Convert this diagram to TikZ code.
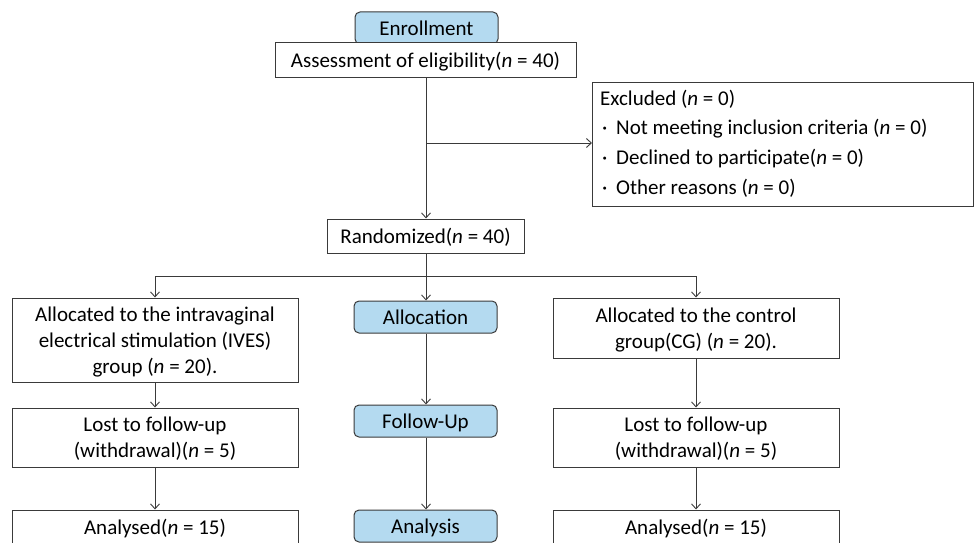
\documentclass[tikz,border=0pt]{standalone}
\usepackage{fontspec}
\setmainfont{Carlito}
\usetikzlibrary{arrows.meta}
\definecolor{bluefill}{HTML}{B4DAF0}
\definecolor{linecol}{HTML}{3A3A3A}
\newcommand{\nn}{\textit{n}}
\newcommand{\bul}{\makebox[16pt][l]{\hspace{2pt}·}}
\begin{document}
\begin{tikzpicture}[x=1pt,y=-1pt,
  txt/.style={font=\fontsize{21}{26}\selectfont},
  box/.style={txt, draw=linecol, line width=1pt, fill=white, inner sep=0pt, align=center, text depth=0pt},
  stage/.style={txt, draw=linecol, line width=1pt, fill=bluefill, rounded corners=5pt, inner sep=0pt, align=center, text depth=0pt},
  arr/.style={draw=linecol, line width=0.9pt, -{Straight Barb[length=5pt,width=9pt]}},
  ln/.style={draw=linecol, line width=0.9pt}]
\useasboundingbox (0,0) rectangle (974,543);
\clip (0,0) rectangle (974,543);
% top
\node[stage, minimum width=143pt, minimum height=32pt] (enroll) at (426.5,28) {Enrollment};
\node[box, minimum width=301pt, minimum height=34pt] (assess) at (425.5,60) {Assessment of eligibility(\nn{} = 40)};
\node[box, minimum width=381pt, minimum height=124pt, anchor=north west] (excl) at (592,82) {};
\node[txt, align=left, anchor=north west, inner sep=0pt, font=\fontsize{21}{29.7}\selectfont] (excltxt) at (600,89.5)
  {Excluded (\nn{} = 0)\\
   \bul Not meeting inclusion criteria (\nn{} = 0)\\
   \bul Declined to participate(\nn{} = 0)\\
   \bul Other reasons (\nn{} = 0)};
\node[box, minimum width=197pt, minimum height=34pt] (rand) at (425.5,236) {Randomized(\nn{} = 40)};
% stages
\node[stage, minimum width=143pt, minimum height=32pt] (allocC) at (425.5,317) {Allocation};
\node[stage, minimum width=143pt, minimum height=32pt] (followC) at (425.5,421) {Follow-Up};
\node[stage, minimum width=143pt, minimum height=32pt] (analC) at (425.5,526) {Analysis};
% left
\node[box, minimum width=286pt, minimum height=84pt] (allocL) at (155,340) {Allocated to the intravaginal\\electrical stimulation (IVES)\\group (\nn{} = 20).};
\node[box, minimum width=286pt, minimum height=59pt] (lostL) at (155,437.5) {Lost to follow-up\\(withdrawal)(\nn{} = 5)};
\node[box, minimum width=286pt, minimum height=34pt] (analL) at (155,527) {Analysed(\nn{} = 15)};
% right
\node[box, minimum width=286pt, minimum height=60pt] (allocR) at (696,328) {Allocated to the control\\group(CG) (\nn{} = 20).};
\node[box, minimum width=286pt, minimum height=59pt] (lostR) at (696,437.5) {Lost to follow-up\\(withdrawal)(\nn{} = 5)};
\node[box, minimum width=286pt, minimum height=34pt] (analR) at (696,527) {Analysed(\nn{} = 15)};
% connectors
\coordinate (exbr) at (426,143);
\coordinate (bl) at (155,276);
\coordinate (br) at (696,276);
\draw[arr] (assess.south -| exbr) -- (rand.north -| exbr);
\draw[arr] (exbr) -- (exbr -| excl.west);
\draw[arr] (rand.south -| exbr) -- (allocC.north -| exbr);
\draw[ln] (bl) -- (br);
\draw[arr] (bl) -- (allocL.north);
\draw[arr] (br) -- (allocR.north);
\draw[arr] (allocC.south -| exbr) -- (followC.north -| exbr);
\draw[arr] (followC.south -| exbr) -- (analC.north -| exbr);
\draw[arr] (allocL.south) -- (lostL.north);
\draw[arr] (lostL.south) -- (analL.north);
\draw[arr] (allocR.south) -- (lostR.north);
\draw[arr] (lostR.south) -- (analR.north);
\end{tikzpicture}
\end{document}
